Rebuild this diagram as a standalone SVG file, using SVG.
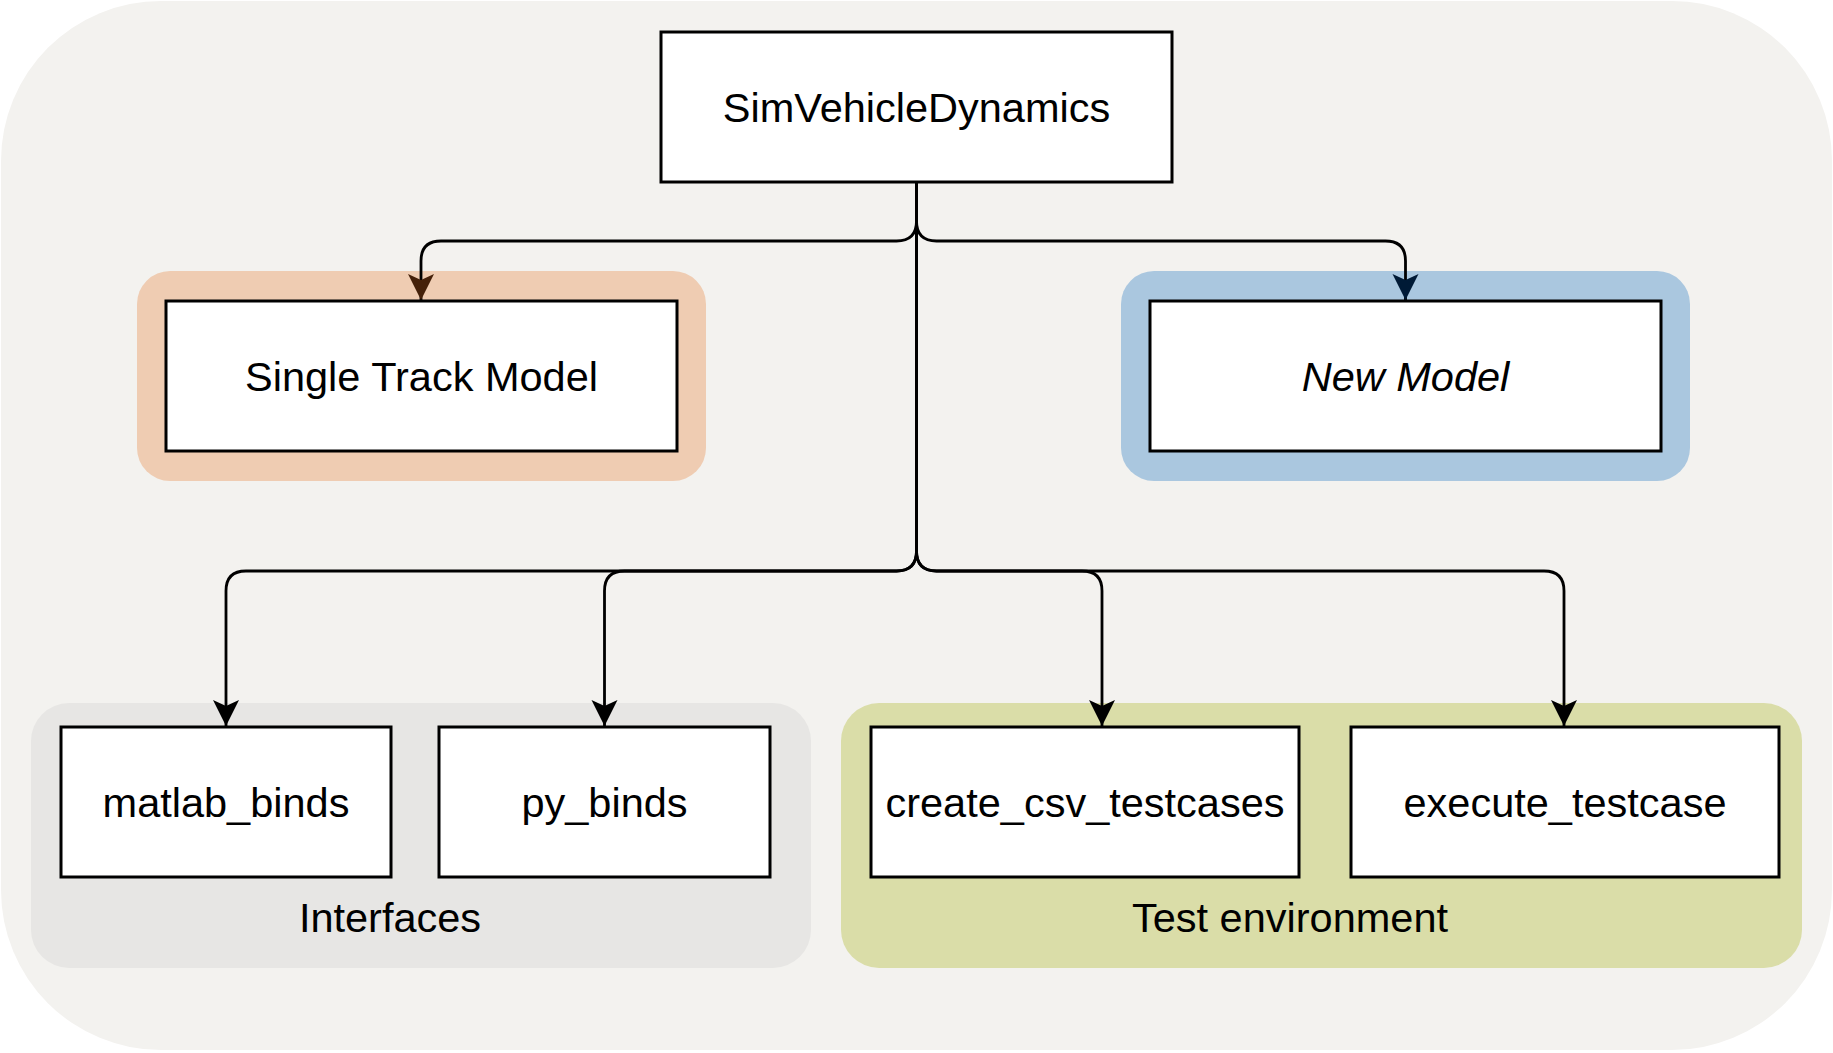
<svg xmlns="http://www.w3.org/2000/svg" width="1833" height="1053" viewBox="0 0 1833 1053">
  <defs>
    <style>
      .box { fill: #ffffff; stroke: #000000; stroke-width: 3; }
      .lbl { font-family: "Liberation Sans", Arial, Helvetica, sans-serif; font-size: 41.5px; fill: #000000; text-anchor: middle; }
      .edge { fill: none; stroke: #000000; stroke-width: 2.8; }
    </style>
    <marker id="arrK" markerUnits="userSpaceOnUse" markerWidth="30" markerHeight="30" viewBox="-28 -15 30 30" refX="0" refY="0" orient="auto">
      <path d="M0,0 L-26,-13 L-20,0 L-26,13 Z" fill="#000000"/>
    </marker>
    <marker id="arrBrown" markerUnits="userSpaceOnUse" markerWidth="30" markerHeight="30" viewBox="-28 -15 30 30" refX="0" refY="0" orient="auto">
      <path d="M0,0 L-26,-13 L-20,0 L-26,13 Z" fill="#45210A"/>
    </marker>
    <marker id="arrNavy" markerUnits="userSpaceOnUse" markerWidth="30" markerHeight="30" viewBox="-28 -15 30 30" refX="0" refY="0" orient="auto">
      <path d="M0,0 L-26,-13 L-20,0 L-26,13 Z" fill="#001A36"/>
    </marker>
  </defs>

  <g id="background">
    <rect x="1" y="1" width="1831" height="1049" rx="160" ry="160" fill="#F3F2EF"/>
  </g>

  <g id="group-interfaces">
    <rect x="31" y="703" width="780" height="265" rx="38" ry="38" fill="#E7E6E4"/>
    <text class="lbl" x="390" y="931.5">Interfaces</text>
  </g>

  <g id="group-test-environment">
    <rect x="841" y="703" width="961" height="265" rx="38" ry="38" fill="#DADDA8"/>
    <text class="lbl" x="1290" y="931.5">Test environment</text>
  </g>

  <g id="node-simvehicledynamics">
    <rect class="box" x="661" y="32" width="511" height="150"/>
    <text class="lbl" x="916.5" y="121.5">SimVehicleDynamics</text>
  </g>

  <g id="node-single-track-model">
    <rect x="137" y="271" width="569" height="210" rx="33" ry="33" fill="#EFCCB2"/>
    <rect class="box" x="166" y="301" width="511" height="150"/>
    <text class="lbl" x="421.5" y="390.5">Single Track Model</text>
  </g>

  <g id="node-new-model">
    <rect x="1121" y="271" width="569" height="210" rx="33" ry="33" fill="#AAC7DF"/>
    <rect class="box" x="1150" y="301" width="511" height="150"/>
    <text class="lbl" x="1405.5" y="390.5" font-style="italic">New Model</text>
  </g>

  <g id="node-matlab-binds">
    <rect class="box" x="61" y="727" width="330" height="150"/>
    <text class="lbl" x="226" y="816.5">matlab_binds</text>
  </g>

  <g id="node-py-binds">
    <rect class="box" x="439" y="727" width="331" height="150"/>
    <text class="lbl" x="604.5" y="816.5">py_binds</text>
  </g>

  <g id="node-create-csv-testcases">
    <rect class="box" x="871" y="727" width="428" height="150"/>
    <text class="lbl" x="1085" y="816.5">create_csv_testcases</text>
  </g>

  <g id="node-execute-testcase">
    <rect class="box" x="1351" y="727" width="428" height="150"/>
    <text class="lbl" x="1565" y="816.5">execute_testcase</text>
  </g>

  <g id="connectors">
    <path class="edge" d="M916.5,183 V221 Q916.5,241 896.5,241 H441 Q421,241 421,261 V300" marker-end="url(#arrBrown)"/>
    <path class="edge" d="M916.5,183 V221 Q916.5,241 936.5,241 H1385.5 Q1405.5,241 1405.5,261 V300" marker-end="url(#arrNavy)"/>
    <path class="edge" d="M916.5,183 V551 Q916.5,571 896.5,571 H246 Q226,571 226,591 V726" marker-end="url(#arrK)"/>
    <path class="edge" d="M916.5,183 V551 Q916.5,571 896.5,571 H624.5 Q604.5,571 604.5,591 V726" marker-end="url(#arrK)"/>
    <path class="edge" d="M916.5,183 V551 Q916.5,571 936.5,571 H1082 Q1102,571 1102,591 V726" marker-end="url(#arrK)"/>
    <path class="edge" d="M916.5,183 V551 Q916.5,571 936.5,571 H1544 Q1564,571 1564,591 V726" marker-end="url(#arrK)"/>
  </g>
</svg>
